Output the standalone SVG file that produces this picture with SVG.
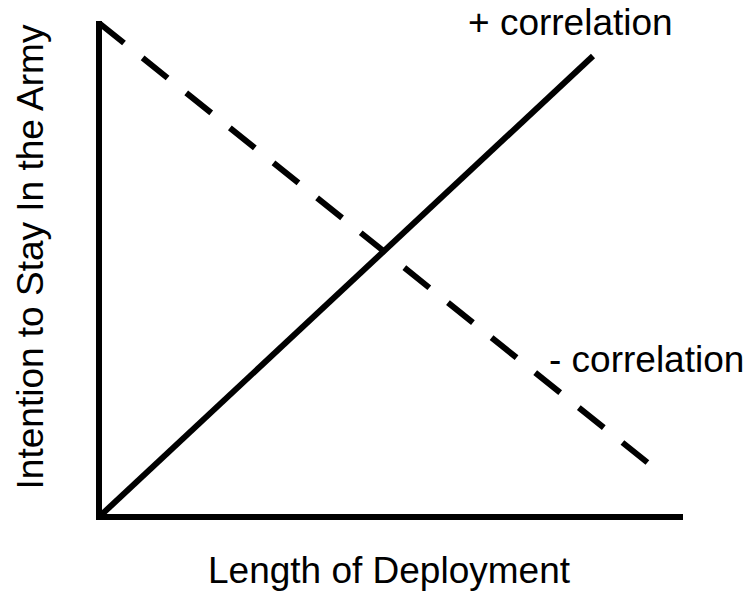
<svg xmlns="http://www.w3.org/2000/svg" width="749" height="599" viewBox="0 0 749 599">
<style>
.ln{fill:none;stroke:#000;stroke-width:6}
.t{font-family:"Liberation Sans",Arial,sans-serif;font-size:37px;fill:#000}
</style>
<rect width="749" height="599" fill="#fff"/>
<g id="connectors">
<polyline id="axes" class="ln" points="99,21 99,517 683,517"/>
<line id="positive" class="ln" x1="99" y1="517" x2="593" y2="56"/>
<line id="negative" class="ln" x1="99" y1="23" x2="648" y2="463" stroke-dasharray="32 23.9"/>
</g>
<g id="labels">
<text id="pos-label" class="t" x="468" y="35">+ correlation</text>
<text id="neg-label" class="t" x="549" y="372">- correlation</text>
<text id="x-label" class="t" x="389" y="583" text-anchor="middle">Length of Deployment</text>
<text id="y-label" class="t" transform="translate(43,257) rotate(-90)" text-anchor="middle">Intention to Stay In the Army</text>
</g>
</svg>
